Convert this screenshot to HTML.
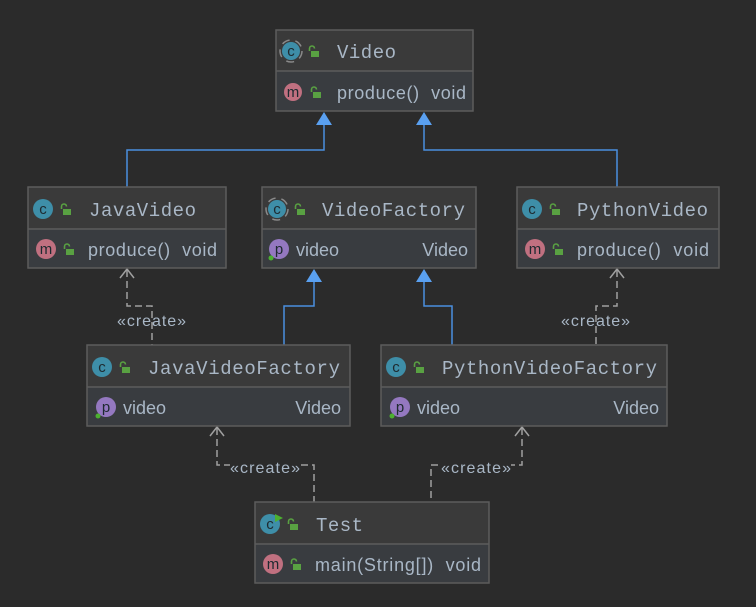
<!DOCTYPE html>
<html><head><meta charset="utf-8"><style>
html,body{margin:0;padding:0;background:#2b2b2b;}
svg{display:block}
text{white-space:pre}
.n{font-family:"Liberation Mono",monospace;font-size:19px;fill:#a9b7c6}
.m{font-family:"Liberation Sans",sans-serif;font-size:18px;fill:#a9b7c6}
.l{font-family:"Liberation Sans",sans-serif;font-size:16px;fill:#a9b7c6}
.ic{font-family:"Liberation Sans",sans-serif;font-size:15px;fill:#1e2a30;text-anchor:middle}
</style></head><body>
<svg width="756" height="607" viewBox="0 0 756 607" xmlns="http://www.w3.org/2000/svg">
<defs>
<g id="lock"><rect x="0" y="3" width="8" height="6" fill="#59a142"/><path d="M1.5 3 V0.5 A2.5 2.5 0 0 1 6.5 0.5" stroke="#59a142" stroke-width="1.6" fill="none" transform="translate(-3,0)"/></g>
</defs>
<g fill="none" stroke="#4a8fe0" stroke-width="1.5">
<path d="M324 124 V150 H127 V187"/><path d="M424 124 V150 H617 V187"/>
<path d="M314 281 V306 H284 V345"/><path d="M424 281 V306 H452 V345"/>
</g>
<g fill="#5aa0f0">
<path d="M324 112 L316 125 L332 125Z"/><path d="M424 112 L416 125 L432 125Z"/>
<path d="M314 269 L306 282 L322 282Z"/><path d="M424 269 L416 282 L432 282Z"/>
</g>
<g fill="none" stroke="#a0a0a0" stroke-width="1.5" stroke-dasharray="7,4">
<path d="M127 270 V306 H152 V345"/><path d="M617 270 V306 H596 V345"/>
<path d="M217 428 V465 H314 V502"/><path d="M522 428 V465 H431 V502"/>
</g>
<g fill="none" stroke="#a0a0a0" stroke-width="1.5">
<path d="M120 278 L127 269 L134 278"/><path d="M610 278 L617 269 L624 278"/>
<path d="M210 436 L217 427 L224 436"/><path d="M515 436 L522 427 L529 436"/>
</g>
<g class="l">
<rect x="118" y="312" width="68" height="17" fill="#2b2b2b" opacity="0"/><text x="117" y="326" textLength="69">«create»</text>
<text x="561" y="326" textLength="69">«create»</text>
<rect x="230" y="458" width="70" height="18" fill="#2b2b2b"/><text x="230" y="473" textLength="70">«create»</text>
<rect x="441" y="458" width="70" height="18" fill="#2b2b2b"/><text x="441" y="473" textLength="70">«create»</text>
</g>

<g transform="translate(276,30)">
<rect x="0" y="0" width="197" height="81" fill="#3a3a3a" stroke="#5c5c5c" stroke-width="1.5"/>
<rect x="1" y="41" width="195" height="39" fill="#393c40"/><line x1="0" y1="41" x2="197" y2="41" stroke="#5c5c5c" stroke-width="1.5"/>
<circle cx="15" cy="21" r="9" fill="#3e8ea8"/><circle cx="15" cy="21" r="11" fill="none" stroke="#8a8a8a" stroke-width="1.5" stroke-dasharray="8,6"/><text class="ic" x="15" y="26">c</text>
<use href="#lock" x="35" y="18"/><text class="n" x="61" y="28" textLength="59">Video</text>
<circle cx="17" cy="62" r="9" fill="#c07080"/><text class="ic" x="17" y="67">m</text>
<use href="#lock" x="37" y="59"/><text class="m" x="61" y="69" textLength="129">produce()  void</text>
</g>
<g transform="translate(28,187)">
<rect x="0" y="0" width="198" height="81" fill="#3a3a3a" stroke="#5c5c5c" stroke-width="1.5"/>
<rect x="1" y="42" width="196" height="38" fill="#393c40"/><line x1="0" y1="42" x2="198" y2="42" stroke="#5c5c5c" stroke-width="1.5"/>
<circle cx="15" cy="22" r="10" fill="#3e8ea8"/><text class="ic" x="15" y="27">c</text>
<use href="#lock" x="35" y="19"/><text class="n" x="61" y="29" textLength="107">JavaVideo</text>
<circle cx="18" cy="62" r="10" fill="#c07080"/><text class="ic" x="18" y="67">m</text>
<use href="#lock" x="38" y="59"/><text class="m" x="60" y="69" textLength="129">produce()  void</text>
</g>
<g transform="translate(262,187)">
<rect x="0" y="0" width="214" height="81" fill="#3a3a3a" stroke="#5c5c5c" stroke-width="1.5"/>
<rect x="1" y="42" width="212" height="38" fill="#393c40"/><line x1="0" y1="42" x2="214" y2="42" stroke="#5c5c5c" stroke-width="1.5"/>
<circle cx="15" cy="22" r="9" fill="#3e8ea8"/><circle cx="15" cy="22" r="11" fill="none" stroke="#8a8a8a" stroke-width="1.5" stroke-dasharray="8,6"/><text class="ic" x="15" y="27">c</text>
<use href="#lock" x="35" y="19"/><text class="n" x="60" y="29" textLength="143">VideoFactory</text>
<circle cx="17" cy="62" r="10" fill="#9478c0"/><text class="ic" x="17" y="67">p</text><circle cx="9" cy="71" r="2.5" fill="#4cb030"/>
<text class="m" x="34" y="69">video</text><text class="m" x="206" y="69" text-anchor="end">Video</text>
</g>
<g transform="translate(517,187)">
<rect x="0" y="0" width="202" height="81" fill="#3a3a3a" stroke="#5c5c5c" stroke-width="1.5"/>
<rect x="1" y="42" width="200" height="38" fill="#393c40"/><line x1="0" y1="42" x2="202" y2="42" stroke="#5c5c5c" stroke-width="1.5"/>
<circle cx="15" cy="22" r="10" fill="#3e8ea8"/><text class="ic" x="15" y="27">c</text>
<use href="#lock" x="35" y="19"/><text class="n" x="60" y="29" textLength="131">PythonVideo</text>
<circle cx="18" cy="62" r="10" fill="#c07080"/><text class="ic" x="18" y="67">m</text>
<use href="#lock" x="38" y="59"/><text class="m" x="60" y="69" textLength="132">produce()  void</text>
</g>
<g transform="translate(87,345)">
<rect x="0" y="0" width="263" height="81" fill="#3a3a3a" stroke="#5c5c5c" stroke-width="1.5"/>
<rect x="1" y="42" width="261" height="38" fill="#393c40"/><line x1="0" y1="42" x2="263" y2="42" stroke="#5c5c5c" stroke-width="1.5"/>
<circle cx="15" cy="22" r="10" fill="#3e8ea8"/><text class="ic" x="15" y="27">c</text>
<use href="#lock" x="35" y="19"/><text class="n" x="61" y="29" textLength="192">JavaVideoFactory</text>
<circle cx="19" cy="62" r="10" fill="#9478c0"/><text class="ic" x="19" y="67">p</text><circle cx="11" cy="71" r="2.5" fill="#4cb030"/>
<text class="m" x="36" y="69">video</text><text class="m" x="254" y="69" text-anchor="end">Video</text>
</g>
<g transform="translate(381,345)">
<rect x="0" y="0" width="286" height="81" fill="#3a3a3a" stroke="#5c5c5c" stroke-width="1.5"/>
<rect x="1" y="42" width="284" height="38" fill="#393c40"/><line x1="0" y1="42" x2="286" y2="42" stroke="#5c5c5c" stroke-width="1.5"/>
<circle cx="15" cy="22" r="10" fill="#3e8ea8"/><text class="ic" x="15" y="27">c</text>
<use href="#lock" x="35" y="19"/><text class="n" x="61" y="29" textLength="215">PythonVideoFactory</text>
<circle cx="19" cy="62" r="10" fill="#9478c0"/><text class="ic" x="19" y="67">p</text><circle cx="11" cy="71" r="2.5" fill="#4cb030"/>
<text class="m" x="36" y="69">video</text><text class="m" x="278" y="69" text-anchor="end">Video</text>
</g>
<g transform="translate(255,502)">
<rect x="0" y="0" width="234" height="81" fill="#3a3a3a" stroke="#5c5c5c" stroke-width="1.5"/>
<rect x="1" y="42" width="232" height="38" fill="#393c40"/><line x1="0" y1="42" x2="234" y2="42" stroke="#5c5c5c" stroke-width="1.5"/>
<circle cx="15" cy="22" r="10" fill="#3e8ea8"/><text class="ic" x="15" y="27">c</text><path d="M20 12 L28 16 L20 20Z" fill="#4cb030"/>
<use href="#lock" x="35" y="19"/><text class="n" x="61" y="29" textLength="47">Test</text>
<circle cx="18" cy="62" r="10" fill="#c07080"/><text class="ic" x="18" y="67">m</text>
<use href="#lock" x="38" y="59"/><text class="m" x="60" y="69" textLength="166">main(String[])  void</text>
</g>
</svg>
</body></html>
